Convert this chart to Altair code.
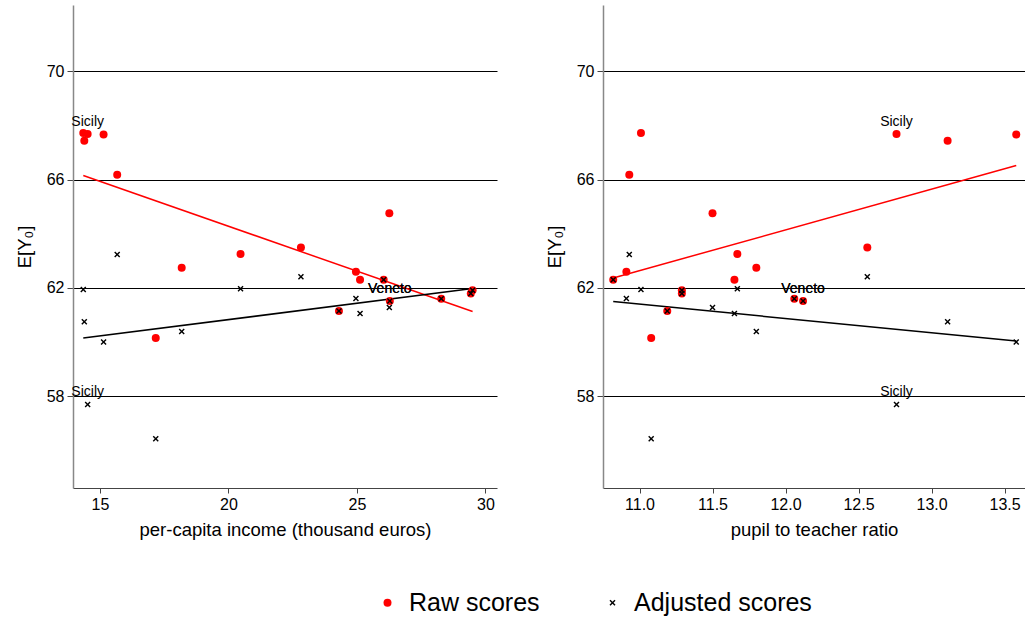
import altair as alt
import pandas as pd

# ---- data (one entry per region) ----
income = [14.35, 14.39, 14.52, 15.14, 15.67, 17.17, 18.18, 20.47, 22.82,
          24.30, 24.96, 25.12, 26.04, 26.26, 26.28, 28.28, 29.43, 29.50]
pupil_ratio = [11.01, 13.11, 12.76, 13.58, 10.93, 11.08, 11.80, 11.67, 12.56,
               11.19, 10.91, 11.65, 10.82, 11.50, 12.12, 12.06, 11.29, 11.29]
raw_scores = [67.72, 67.43, 67.68, 67.66, 66.18, 60.14, 62.74, 63.25, 63.49,
              61.14, 62.59, 62.30, 62.30, 64.75, 61.51, 61.59, 61.79, 61.91]
adjusted_scores = [61.94, 60.74, 57.69, 60.00, 63.23, 56.42, 60.38, 61.96, 62.41,
                   61.14, 61.60, 61.05, 62.30, 61.27, 61.51, 61.59, 61.79, 61.91]
region_labels = ["", "", "Sicily", "", "", "", "", "", "",
                 "", "", "", "", "", "Veneto", "", "", ""]

# fitted lines (end points)
income_fit_x = [14.35, 29.50]
income_fit_raw = [66.15, 61.12]
income_fit_adj = [60.14, 61.97]
ratio_fit_x = [10.82, 13.58]
ratio_fit_raw = [62.36, 66.52]
ratio_fit_adj = [61.49, 60.03]

y_ticks = [58, 62, 66, 70]
income_ticks = [15, 20, 25, 30]
ratio_ticks = [11, 11.5, 12, 12.5, 13, 13.5]
series_names = ["Raw scores", "Adjusted scores"]

FONT = "Liberation Sans"
X_PATH = ("M-0.75,-0.5L-0.5,-0.75L0,-0.25L0.5,-0.75L0.75,-0.5L0.25,0L0.75,0.5"
          "L0.5,0.75L0,0.25L-0.5,0.75L-0.75,0.5L-0.25,0Z")

LEGEND = alt.Legend(title=None, orient="none", direction="horizontal",
                    legendX=302, legendY=585, labelFontSize=25,
                    labelFont=FONT, symbolSize=64, labelOffset=9,
                    columnPadding=60, symbolStrokeWidth=0, labelLimit=400,
                    labelColor="black")


def panel(xvals, xdomain, xticks, xtitle, fit_x, fit_raw, fit_adj, width):
    n = len(xvals)
    pts = pd.DataFrame({
        "x": list(xvals) + list(xvals),
        "y": raw_scores + adjusted_scores,
        "series": [series_names[0]] * n + [series_names[1]] * n,
        "label": region_labels + region_labels,
    })
    fit_raw_df = pd.DataFrame({"x": fit_x, "y": fit_raw})
    fit_adj_df = pd.DataFrame({"x": fit_x, "y": fit_adj})
    xscale = alt.Scale(domain=xdomain, nice=False, zero=False)
    yscale = alt.Scale(domain=[54.6, 72.45], nice=False, zero=False)
    xaxis = alt.Axis(values=xticks, title=xtitle, grid=False, tickSize=5,
                     tickColor="#444444", domainColor="#444444", domainWidth=1.2,
                     labelFontSize=16, titleFontSize=18.5, labelPadding=3,
                     titlePadding=8, labelColor="black", titleColor="black",
                     titleFontWeight="normal", labelFlush=False)
    yaxis = alt.Axis(values=y_ticks, title="E[Y₀]", grid=True, gridColor="black",
                     gridOpacity=1, gridWidth=1, tickSize=6, tickColor="#444444",
                     domainColor="#888888", domainWidth=1.5, labelFontSize=16,
                     titleFontSize=18.5, labelPadding=3, titlePadding=12,
                     labelColor="black", titleColor="black",
                     titleFontWeight="normal")
    color_scale = alt.Scale(domain=series_names, range=["#ff0000", "#000000"])
    shape_scale = alt.Scale(domain=series_names, range=["circle", X_PATH])

    line_raw = alt.Chart(fit_raw_df).mark_line(strokeWidth=1.5, color="#ff0000").encode(
        x=alt.X("x:Q", scale=xscale, axis=xaxis),
        y=alt.Y("y:Q", scale=yscale, axis=yaxis),
    )
    line_adj = alt.Chart(fit_adj_df).mark_line(strokeWidth=1.5, color="#000000").encode(
        x=alt.X("x:Q", scale=xscale),
        y=alt.Y("y:Q", scale=yscale),
    )
    points = alt.Chart(pts).mark_point(filled=True, size=64, opacity=1).encode(
        x=alt.X("x:Q", scale=xscale),
        y=alt.Y("y:Q", scale=yscale),
        color=alt.Color("series:N", scale=color_scale, legend=LEGEND),
        shape=alt.Shape("series:N", scale=shape_scale, legend=LEGEND),
    )
    labels = alt.Chart(pts).transform_filter("datum.label != ''").mark_text(
        dy=-12, fontSize=14, font=FONT, color="black"
    ).encode(
        x=alt.X("x:Q", scale=xscale),
        y=alt.Y("y:Q", scale=yscale),
        text="label:N",
    )
    return alt.layer(line_raw, line_adj, points, labels).properties(
        width=width, height=483)


left = panel(income, [13.95, 30.45], income_ticks,
             "per-capita income (thousand euros)",
             income_fit_x, income_fit_raw, income_fit_adj, 424)
right = panel(pupil_ratio, [10.75, 13.64], ratio_ticks, "pupil to teacher ratio",
              ratio_fit_x, ratio_fit_raw, ratio_fit_adj, 422)

chart = alt.hconcat(left, right, spacing=48).properties(
    padding={"left": 15, "top": 5, "right": 0, "bottom": 0}
).resolve_scale(color="shared", shape="shared").configure(
    font=FONT
).configure_view(stroke=None)

chart.save("out.html", embed_options={"renderer": "svg", "actions": False})
